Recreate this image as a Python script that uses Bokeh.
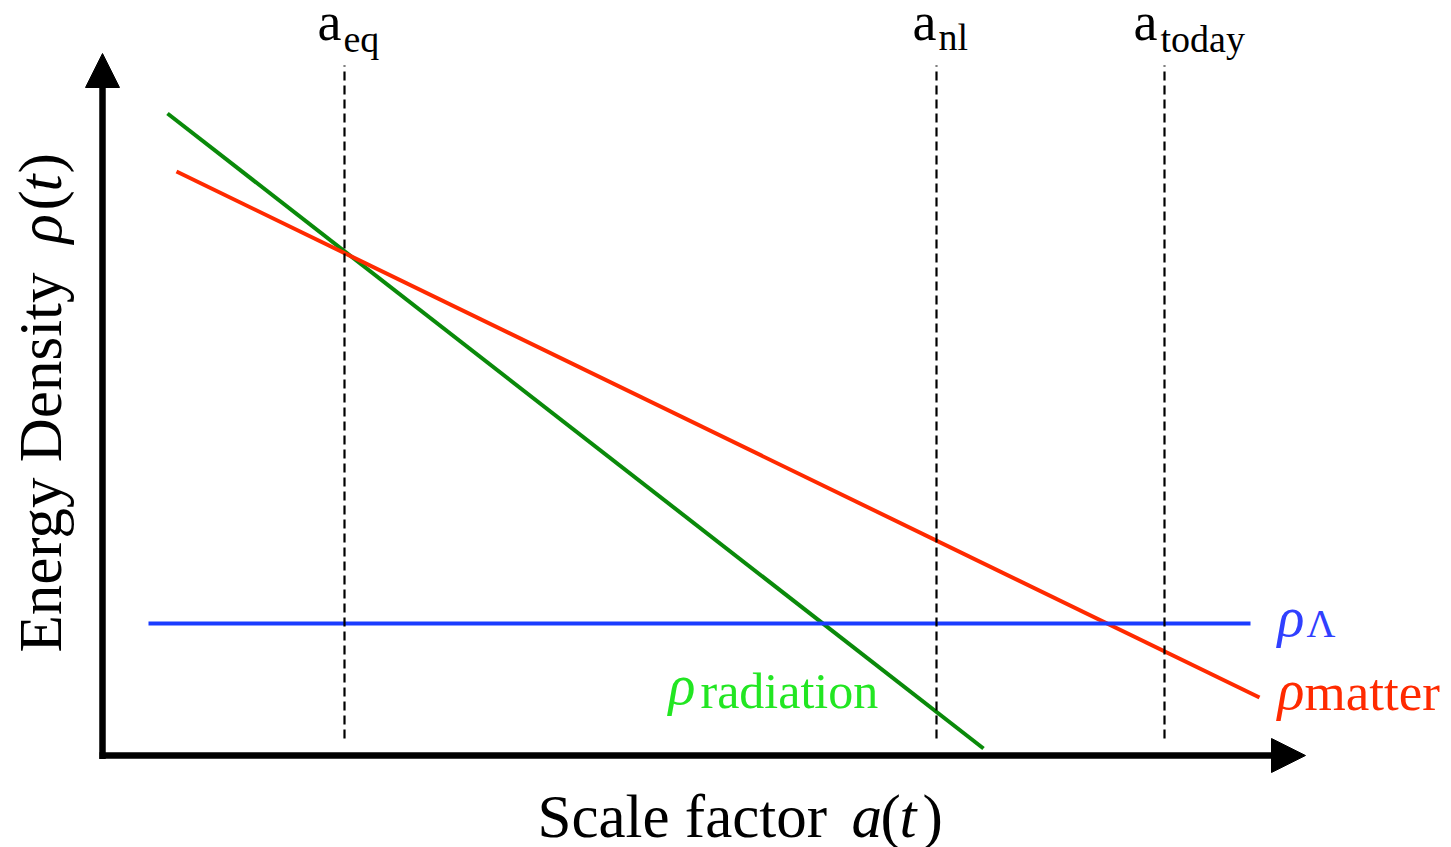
from bokeh.plotting import figure
from bokeh.models import Range1d
from bokeh.embed import file_html
from bokeh.resources import INLINE
from bokeh.core.properties import value

W, H = 1451, 847

# Schematic coordinates: x ~ log scale factor, y ~ log energy density (upward)
components = ["radiation", "matter", "lambda"]
comp_x0 = [167, 176, 148]
comp_x1 = [983, 1259, 1250]
comp_y0 = [734, 676, 224]
comp_y1 = [99, 150, 224]
comp_colors = ["#0a8a0a", "#ff2a00", "#1a3cff"]
comp_widths = [4, 4, 4]

# characteristic epochs
eras = ["eq", "nl", "today"]
era_x = [344, 936, 1164]
era_y_low = 109
era_y_high = 782

# axes geometry
origin_x, origin_y = 102, 92
x_tip, y_tip = 1305, 794
head = 34

SERIF = value("Liberation Serif")
dy = 17  # baseline correction

p = figure(width=W, height=H, x_range=Range1d(0, W), y_range=Range1d(0, H),
           output_backend="svg", toolbar_location=None,
           x_axis_location=None, y_axis_location=None, min_border=0)
p.grid.visible = False
p.outline_line_color = None
p.background_fill_color = "white"
p.border_fill_color = "white"

# density lines
p.segment(x0=comp_x0, y0=comp_y0, x1=comp_x1, y1=comp_y1,
          line_color=comp_colors, line_width=comp_widths)

# dashed epoch lines
p.segment(x0=era_x, y0=[era_y_low] * 3, x1=era_x, y1=[era_y_high] * 3,
          line_color="black", line_width=2.2, line_dash="9 5")

# axes with arrow heads
p.segment(x0=[origin_x, origin_x - 3], y0=[origin_y - 3.5, origin_y],
          x1=[origin_x, x_tip - head + 4], y1=[y_tip - head + 4, origin_y],
          line_color="black", line_width=6.5)
p.patches(xs=[[origin_x - head / 2, origin_x + head / 2, origin_x],
              [x_tip - head, x_tip - head, x_tip]],
          ys=[[y_tip - head, y_tip - head, y_tip],
              [origin_y - head / 2, origin_y + head / 2, origin_y]],
          fill_color="black", line_color="black", line_width=1)

# epoch labels a_eq, a_nl, a_today
p.text(x=[317, 912, 1133], y=[809 + dy] * 3, text=["a", "a", "a"],
       text_font=SERIF, text_font_size="54px", text_baseline="alphabetic",
       text_color="black")
p.text(x=[343, 938, 1160], y=[792 + dy, 794 + dy, 792 + dy], text=eras,
       text_font=SERIF, text_font_size="38px", text_baseline="alphabetic",
       text_color="black")

# component labels
lab_colors = ["#22e622", "#3040ff", "#ff2a00"]
p.text(x=[668, 1277, 1277], y=[146 + dy, 214 + dy, 141 + dy], text=["ρ", "ρ", "ρ"],
       text_font=SERIF, text_font_style="italic", text_font_size="56px",
       text_baseline="alphabetic", text_color=lab_colors)
p.text(x=[700, 1306, 1304], y=[140 + dy, 207 + dy, 139 + dy],
       text=["radiation", "Λ", "matter"],
       text_font=SERIF, text_font_size=["50px", "40px", "53px"],
       text_baseline="alphabetic", text_color=lab_colors)

# x axis title: Scale factor a(t)
p.text(x=[537, 880, 922], y=[14 + dy] * 3, text=["Scale factor", "(", ")"],
       text_font=SERIF, text_font_size="61px", text_baseline="alphabetic",
       text_color="black")
p.text(x=[851, 899], y=[14 + dy] * 2, text=["a", "t"],
       text_font=SERIF, text_font_style="italic", text_font_size="61px",
       text_baseline="alphabetic", text_color="black")

# y axis title: Energy Density rho(t)
ang = 1.5707963
yx = 60 - dy - 3
p.text(x=[yx] * 3, y=[195, 637, 674], text=["Energy Density", "(", ")"],
       text_font=SERIF, text_font_size="61px", text_baseline="alphabetic",
       text_color="black", angle=ang)
p.text(x=[yx] * 2, y=[604, 656], text=["ρ", "t"],
       text_font=SERIF, text_font_style="italic", text_font_size="61px",
       text_baseline="alphabetic", text_color="black", angle=ang)

open("out.html", "w").write(file_html(p, INLINE))
